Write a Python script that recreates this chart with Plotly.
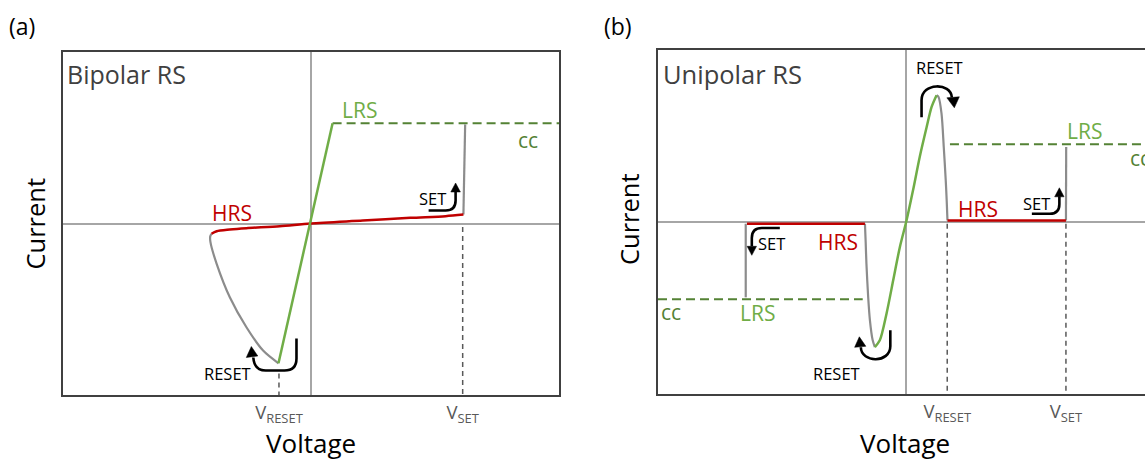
import plotly.graph_objects as go

# ---------------- data (schematic I-V curves, normalised units) ----------------
# Panel (a): bipolar resistive switching
a_hrs_v = [-0.400, -0.379, -0.326, -0.259, -0.125, 0.0, 0.210, 0.401, 0.543, 0.615]
a_hrs_i = [-0.060, -0.045, -0.035, -0.027, -0.016, 0.0, 0.017, 0.033, 0.043, 0.052]
a_reset_v = [-0.400, -0.405, -0.404, -0.379, -0.326, -0.259, -0.192, -0.130]
a_reset_i = [-0.060, -0.076, -0.109, -0.235, -0.430, -0.605, -0.741, -0.815]
a_lrs_v = [-0.130, 0.088]
a_lrs_i = [-0.815, 0.585]
a_cc_v = [0.088, 1.0]
a_cc_i = [0.585, 0.585]
a_set_v = [0.615, 0.622]
a_set_i = [0.052, 0.578]
a_vreset = -0.128
a_vset = 0.612

# Panel (b): unipolar resistive switching
b_hrs_l_v = [-0.641, -0.165]
b_hrs_l_i = [-0.010, -0.010]
b_set_l_v = [-0.646, -0.646]
b_set_l_i = [-0.010, -0.438]
b_cc_l_v = [-1.0, -0.174]
b_cc_l_i = [-0.449, -0.449]
b_reset_l_v = [-0.165, -0.162, -0.159, -0.152, -0.145, -0.134, -0.125]
b_reset_l_i = [-0.010, -0.120, -0.242, -0.436, -0.570, -0.686, -0.727]
b_lrs_v = [-0.125, -0.105, -0.078, -0.051, -0.024, 0.003, 0.029, 0.056, 0.084, 0.104, 0.124]
b_lrs_i = [-0.727, -0.688, -0.533, -0.339, -0.145, 0.010, 0.184, 0.378, 0.552, 0.669, 0.737]
b_reset_r_v = [0.124, 0.132, 0.144, 0.153, 0.161, 0.165, 0.168]
b_reset_r_i = [0.737, 0.727, 0.630, 0.436, 0.242, 0.120, 0.009]
b_hrs_r_v = [0.168, 0.646]
b_hrs_r_i = [0.009, 0.009]
b_set_r_v = [0.646, 0.647]
b_set_r_i = [0.009, 0.436]
b_cc_r_v = [0.178, 0.965]
b_cc_r_i = [0.452, 0.452]
b_vreset = 0.167
b_vset = 0.646

tick_labels = ["V<sub>RESET</sub>", "V<sub>SET</sub>"]

# ---------------- styling ----------------
W, H = 1145, 459
FONT = "Open Sans"
GREEN = "#70AD47"
DKGREEN = "#548235"
RED = "#C00000"
GRAY = "#8C8C8C"
AXGRAY = "#A6A6A6"
FRAME = "#404040"
TXTGRAY = "#404040"

A_L, A_R, A_T, A_B = 62.5, 559, 52, 395
B_L, B_R, B_T, B_B = 658, 1145, 50, 394

fig = go.Figure()


def line(x, y, color, width, xa, ya, dash=None, shape="linear"):
    fig.add_trace(go.Scatter(x=x, y=y, mode="lines", xaxis=xa, yaxis=ya,
                             line=dict(color=color, width=width, dash=dash, shape=shape,
                                       smoothing=0.8),
                             hoverinfo="skip", showlegend=False))


VD = "5px,4px"
CD = "9px,5px"
# panel (a)
line([a_vreset, a_vreset], [-0.875, -1.0], "#595959", 1.5, "x", "y", dash=VD)
line([a_vset, a_vset], [-0.02, -1.0], "#595959", 1.5, "x", "y", dash=VD)
line(a_cc_v, a_cc_i, DKGREEN, 2, "x", "y", dash=CD)
line(a_set_v, a_set_i, GRAY, 2.2, "x", "y")
line(a_reset_v, a_reset_i, GRAY, 2.2, "x", "y", shape="spline")
line(a_hrs_v, a_hrs_i, RED, 2.5, "x", "y", shape="spline")
line(a_lrs_v, a_lrs_i, GREEN, 2.5, "x", "y")
# panel (b)
line([b_vreset, b_vreset], [-0.01, -1.0], "#595959", 1.5, "x2", "y2", dash=VD)
line([b_vset, b_vset], [-0.01, -1.0], "#595959", 1.5, "x2", "y2", dash=VD)
line(b_cc_l_v, b_cc_l_i, DKGREEN, 2, "x2", "y2", dash=CD)
line(b_cc_r_v, b_cc_r_i, DKGREEN, 2, "x2", "y2", dash=CD)
line(b_set_l_v, b_set_l_i, GRAY, 2.2, "x2", "y2")
line(b_set_r_v, b_set_r_i, GRAY, 2.2, "x2", "y2")
line(b_reset_l_v, b_reset_l_i, GRAY, 2.2, "x2", "y2", shape="spline")
line(b_reset_r_v, b_reset_r_i, GRAY, 2.2, "x2", "y2", shape="spline")
line(b_hrs_l_v, b_hrs_l_i, RED, 2.5, "x2", "y2")
line(b_hrs_r_v, b_hrs_r_i, RED, 2.5, "x2", "y2")
line(b_lrs_v, b_lrs_i, GREEN, 2.5, "x2", "y2", shape="spline")

# ---------------- axes ----------------
common = dict(showgrid=False, zeroline=True, zerolinecolor=AXGRAY, zerolinewidth=1.5,
              showline=True, linecolor=FRAME, linewidth=2, fixedrange=True)
TICKFONT = dict(size=18.5, color="#595959", family=FONT)
fig.update_layout(
    width=W, height=H, margin=dict(l=0, r=0, t=0, b=0),
    paper_bgcolor="white", plot_bgcolor="white", showlegend=False,
    font=dict(family=FONT, color="black"),
    xaxis=dict(domain=[A_L / W, A_R / W], range=[-1, 1], anchor="y", mirror=True,
               tickvals=[a_vreset, a_vset], ticktext=tick_labels, ticks="",
               tickfont=TICKFONT, **common),
    yaxis=dict(domain=[1 - A_B / H, 1 - A_T / H], range=[-1, 1], anchor="x", mirror=True,
               showticklabels=False, ticks="", **common),
    xaxis2=dict(domain=[B_L / W, 1.0], range=[-1, 0.965], anchor="y2", mirror=True,
                tickvals=[b_vreset, b_vset], ticktext=tick_labels, ticks="",
                tickfont=TICKFONT, **common),
    yaxis2=dict(domain=[1 - B_B / H, 1 - B_T / H], range=[-1, 1], anchor="x2", mirror=False,
                showticklabels=False, ticks="", **common),
)


# ---------------- curved arrows (decoration, given in pixel offsets) ----------------
def conv_a(px, py):
    return ((px - 311) / 248.5, (223 - py) / 171.5)


def conv_b(px, py):
    return ((px - 906) / 247.8, (221.7 - py) / 172)


def build(conv, cmds):
    s = ""
    for c in cmds:
        s += c[0]
        pts = []
        for p in c[1:]:
            x, y = conv(*p)
            pts.append(f"{x:.4f},{y:.4f}")
        s += " ".join(pts) + " "
    return s.strip()


def arrow(conv, cmds, head, xr, yr):
    fig.add_shape(type="path", path=build(conv, cmds), xref=xr, yref=yr,
                  line=dict(color="black", width=2.6), fillcolor="rgba(0,0,0,0)")
    hp = build(conv, [("M", head[0]), ("L", head[1]), ("L", head[2])]) + " Z"
    fig.add_shape(type="path", path=hp, xref=xr, yref=yr,
                  line=dict(color="black", width=0.5), fillcolor="black")


arrow(conv_a, [("M", (429, 210)), ("L", (446, 210)), ("Q", (456, 210), (456, 200)), ("L", (456, 191))],
      [(456, 182.5), (451.2, 191.5), (460.8, 191.5)], "x", "y")
arrow(conv_a, [("M", (296.7, 338)), ("L", (296.7, 358)), ("Q", (296.7, 370), (284.7, 370)),
               ("L", (266, 370)), ("Q", (254.5, 370), (253.5, 357))],
      [(251.5, 346), (246.5, 357), (258, 355.5)], "x", "y")
arrow(conv_b, [("M", (1032, 213.5)), ("L", (1050, 213.5)), ("Q", (1059.5, 213.5), (1059.5, 204)),
               ("L", (1059.5, 196))],
      [(1059.5, 187.5), (1054.8, 196.5), (1064.2, 196.5)], "x2", "y2")
arrow(conv_b, [("M", (780, 227.7)), ("L", (762, 227.7)), ("Q", (752, 227.7), (752, 237.7)),
               ("L", (752, 246))],
      [(752, 255), (747.3, 246), (756.7, 246)], "x2", "y2")
arrow(conv_b, [("M", (890.5, 330)), ("L", (890.5, 346)), ("C", (890.5, 363), (861.5, 363), (861, 347))],
      [(859.5, 336.5), (854.8, 347), (866, 346)], "x2", "y2")
arrow(conv_b, [("M", (921.7, 117)), ("L", (921.7, 100)), ("C", (921.7, 82), (951, 82), (952, 97))],
      [(954.5, 107.5), (947, 97.5), (959.5, 96.5)], "x2", "y2")


# ---------------- text ----------------
def txt(x, y, s, size, color="black", xr="x", yr="y", xanchor="center", angle=0, yanchor="middle"):
    fig.add_annotation(x=x, y=y, text=s, xref=xr, yref=yr, showarrow=False,
                       xanchor=xanchor, yanchor=yanchor, textangle=angle, borderpad=0,
                       font=dict(size=size, color=color, family=FONT))


txt(22 / W, 1 - 26 / H, "(a)", 23, xr="paper", yr="paper")
txt(618 / W, 1 - 26 / H, "(b)", 23, xr="paper", yr="paper")
txt(34 / W, 1 - 223.5 / H, "Current", 25.5, xr="paper", yr="paper", angle=-90)
txt(629 / W, 1 - 219 / H, "Current", 25.5, xr="paper", yr="paper", angle=-90)
txt(311 / W, -3 / H, "Voltage", 26, xr="paper", yr="paper", yanchor="bottom")
txt(905 / W, -3 / H, "Voltage", 26, xr="paper", yr="paper", yanchor="bottom")

# panel (a) labels
txt(-0.985, 0.869, "Bipolar RS", 25, TXTGRAY, xanchor="left")
txt(0.197, 0.659, "LRS", 21, GREEN)
txt(0.877, 0.484, "cc", 21, DKGREEN)
txt(-0.318, 0.064, "HRS", 21, RED)
txt(0.491, 0.146, "SET", 16.5)
txt(-0.334, -0.875, "RESET", 16.5)

# panel (b) labels
txt(-0.985, 0.859, "Unipolar RS", 25.5, TXTGRAY, "x2", "y2", xanchor="left")
txt(0.137, 0.899, "RESET", 16.5, xr="x2", yr="y2")
txt(0.722, 0.527, "LRS", 21, GREEN, "x2", "y2")
txt(0.902, 0.370, "cc", 21, DKGREEN, "x2", "y2", xanchor="left")
txt(0.291, 0.074, "HRS", 21, RED, "x2", "y2")
txt(0.529, 0.109, "SET", 16.5, xr="x2", yr="y2")
txt(-0.274, -0.118, "HRS", 21, RED, "x2", "y2")
txt(-0.541, -0.124, "SET", 16.5, xr="x2", yr="y2")
txt(-0.597, -0.530, "LRS", 21, GREEN, "x2", "y2")
txt(-0.948, -0.525, "cc", 21, DKGREEN, "x2", "y2")
txt(-0.278, -0.880, "RESET", 16.5, xr="x2", yr="y2")

fig.write_html("out.html")
